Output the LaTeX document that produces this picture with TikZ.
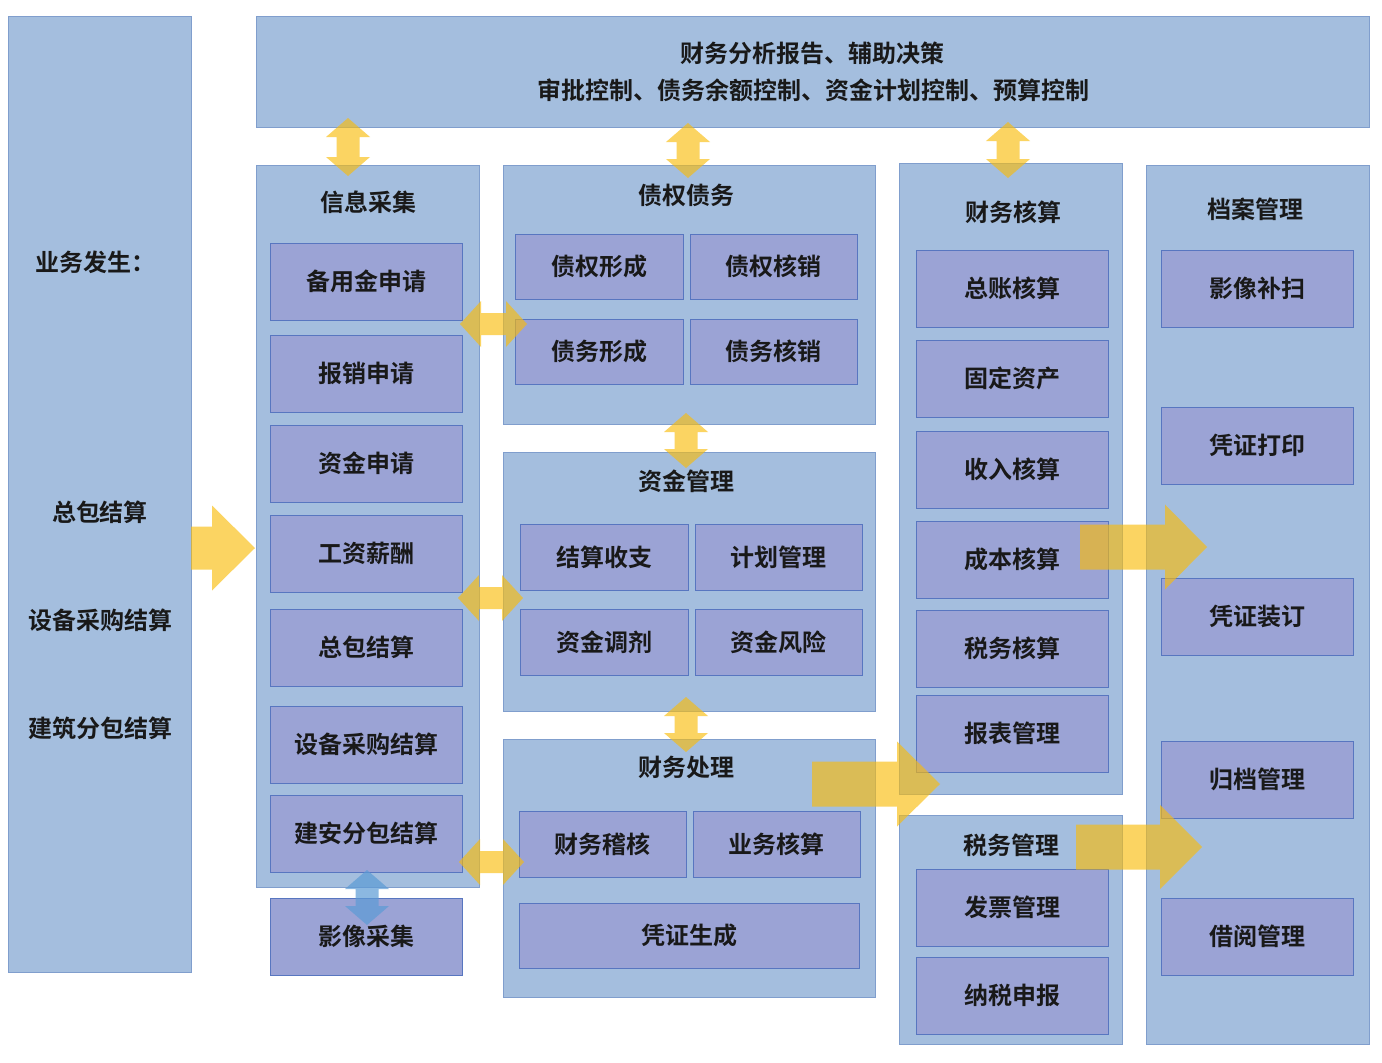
\documentclass[tikz,border=0pt]{standalone}
\usepackage{fontspec}
\setmainfont{Noto Sans CJK SC}[BoldFont={Noto Sans CJK SC Bold}]
\definecolor{panelfill}{RGB}{164,190,222}
\definecolor{paneldraw}{RGB}{128,158,205}
\definecolor{itemfill}{RGB}{155,163,213}
\definecolor{itemdraw}{RGB}{88,118,192}
\definecolor{yarr}{RGB}{250,188,10}
\definecolor{barr}{RGB}{91,155,213}
\definecolor{txt}{RGB}{25,25,25}
\newcommand\hdarrow[3]{% x1 x2 yc
  \fill[yarrowstyle] (#1,#3) -- ({#1+21},{#3-23}) -- ({#1+21},{#3-11}) -- ({#2-21},{#3-11}) -- ({#2-21},{#3-23}) -- (#2,#3)
    -- ({#2-21},{#3+23}) -- ({#2-21},{#3+11}) -- ({#1+21},{#3+11}) -- ({#1+21},{#3+23}) -- cycle;}
\newcommand\vdarrow[4][yarrowstyle]{% xc y1 y2
  \fill[#1] (#2,#3) -- ({#2+22},{#3+19}) -- ({#2+11.5},{#3+19}) -- ({#2+11.5},{#4-19}) -- ({#2+22},{#4-19}) -- (#2,#4)
    -- ({#2-22},{#4-19}) -- ({#2-11.5},{#4-19}) -- ({#2-11.5},{#3+19}) -- ({#2-22},{#3+19}) -- cycle;}
\newcommand\bigrarrow[6]{% x1 xbase xtip yc shafthalf headhalf
  \fill[yarrowstyle] (#1,{#4-#5}) -- (#2,{#4-#5}) -- (#2,{#4-#6}) -- (#3,#4) -- (#2,{#4+#6}) -- (#2,{#4+#5}) -- (#1,{#4+#5}) -- cycle;}
\begin{document}
\begin{tikzpicture}[x=1pt,y=-1pt,
  panel/.style={fill=panelfill,draw=paneldraw,line width=0.8pt},
  itembox/.style={fill=itemfill,draw=itemdraw,line width=0.8pt},
  lbl/.style={text=txt,font=\fontsize{24}{28}\selectfont\bfseries,inner sep=0pt},
  yarrowstyle/.style={fill=yarr,fill opacity=0.64},
  barrowstyle/.style={fill=barr,fill opacity=0.7}]
\useasboundingbox (0,0) rectangle (1382,1063);
\fill[white] (0,0) rectangle (1382,1063);
% panels
\path[panel] (8,16) rectangle (191,972);
\path[panel] (256,16) rectangle (1369,127);
\path[panel] (256,165) rectangle (479,887);
\path[panel] (503,165) rectangle (875,424);
\path[panel] (503,452) rectangle (875,711);
\path[panel] (503,739) rectangle (875,997);
\path[panel] (899,163) rectangle (1122,794);
\path[panel] (899,815) rectangle (1122,1044);
\path[panel] (1146,165) rectangle (1369,1044);
% left panel texts
\node[lbl] (yw) at (95,262) {业务发生：};
\node[lbl] (lzb) at (100,512) {总包结算};
\node[lbl] (lsb) at (100,620) {设备采购结算};
\node[lbl] (ljz) at (100,728) {建筑分包结算};
% top
\node[lbl] (top1) at (812,53) {财务分析报告、辅助决策};
\node[lbl] (top2) at (813,90) {审批控制、债务余额控制、资金计划控制、预算控制};
% titles
\node[lbl] (t1) at (368,202) {信息采集};
\node[lbl] (t2) at (686,195) {债权债务};
\node[lbl] (t3) at (686,481) {资金管理};
\node[lbl] (t4) at (686,767) {财务处理};
\node[lbl] (t5) at (1013,212) {财务核算};
\node[lbl] (t6) at (1011,845) {税务管理};
\node[lbl] (t7) at (1255,209) {档案管理};
% items: 信息采集
\foreach \ya/\yb/\t/\n in {243/320/备用金申请/a1,335/412/报销申请/a2,425/502/资金申请/a3,515/592/工资薪酬/a4,609/686/总包结算/a5,706/783/设备采购结算/a6,795/872/建安分包结算/a7,898/975/影像采集/a8}{
  \path[itembox] (270,\ya) rectangle (462,\yb);
  \node[lbl] (\n) at (366,{(\ya+\yb)/2}) {\t};
}
% 债权债务 / 资金管理 / 财务处理
\foreach \xa/\xb/\ya/\yb/\t/\n in {515/683/234/299/债权形成/b1,690/857/234/299/债权核销/b2,515/683/319/384/债务形成/b3,690/857/319/384/债务核销/b4,
  520/688/524/590/结算收支/c1,695/862/524/590/计划管理/c2,520/688/609/675/资金调剂/c3,695/862/609/675/资金风险/c4,
  519/686/811/877/财务稽核/d1,693/860/811/877/业务核算/d2,519/859/903/968/凭证生成/d3}{
  \path[itembox] (\xa,\ya) rectangle (\xb,\yb);
  \node[lbl] (\n) at ({(\xa+\xb)/2},{(\ya+\yb)/2}) {\t};
}
% 财务核算 / 税务管理
\foreach \ya/\yb/\t/\n in {250/327/总账核算/e1,340/417/固定资产/e2,431/508/收入核算/e3,521/598/成本核算/e4,610/687/税务核算/e5,695/772/报表管理/e6,869/946/发票管理/f1,957/1034/纳税申报/f2}{
  \path[itembox] (916,\ya) rectangle (1108,\yb);
  \node[lbl] (\n) at (1012,{(\ya+\yb)/2}) {\t};
}
% 档案管理
\foreach \ya/\yb/\t/\n in {250/327/影像补扫/g1,407/484/凭证打印/g2,578/655/凭证装订/g3,741/818/归档管理/g4,898/975/借阅管理/g5}{
  \path[itembox] (1161,\ya) rectangle (1353,\yb);
  \node[lbl] (\n) at (1257,{(\ya+\yb)/2}) {\t};
}
% arrows
\vdarrow{348}{118}{176}
\vdarrow{688}{123}{178}
\vdarrow{1008}{122}{178}
\vdarrow{686}{413}{468}
\vdarrow{686}{697}{752}
\hdarrow{460}{527}{324}
\hdarrow{458}{523}{598}
\hdarrow{459}{524}{862}
\vdarrow[barrowstyle]{367}{870}{925}
\bigrarrow{191}{212}{255}{548}{21.5}{42.5}
\bigrarrow{1080}{1165}{1207}{547}{22.5}{42.5}
\bigrarrow{812}{897}{940}{784}{22.5}{42.5}
\bigrarrow{1076}{1160}{1202}{847}{22.5}{42}
\end{tikzpicture}
\end{document}
